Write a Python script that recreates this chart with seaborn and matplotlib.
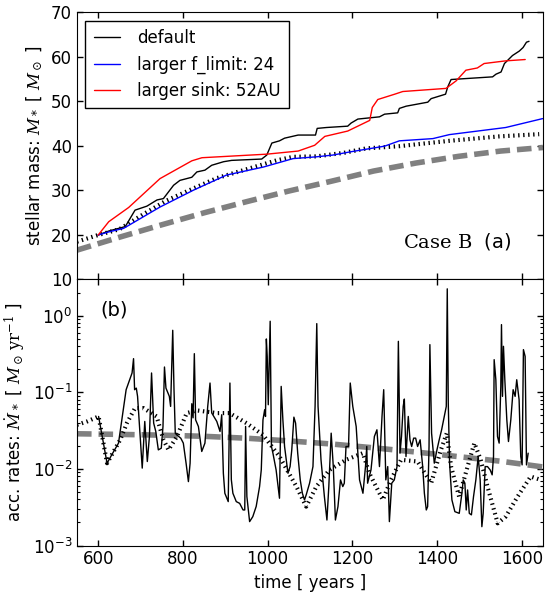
import numpy as np
import pandas as pd
import matplotlib
matplotlib.use("Agg")
import matplotlib.pyplot as plt
import seaborn as sns

# ---------------- data ----------------
# top panel: stellar mass [Msun] vs time [yr]
t_default = [600, 625, 664, 687, 715, 739, 754, 778, 793, 821, 833, 852, 868, 896, 915, 986, 998,
             1010, 1028, 1040, 1072, 1113, 1117, 1139, 1189, 1197, 1213, 1264, 1276, 1307, 1311,
             1327, 1378, 1386, 1420, 1425, 1433, 1531, 1539, 1551, 1559, 1578, 1594, 1603, 1611, 1617]
m_default = [19.9, 20.8, 21.8, 25.5, 26.4, 27.8, 28.1, 31.1, 32.2, 32.9, 34.1, 34.5, 35.6, 36.4, 36.7,
             37.0, 37.9, 40.6, 41.1, 41.7, 42.4, 42.4, 43.9, 44.1, 44.4, 45.1, 46.0, 46.5, 47.1, 47.4,
             48.4, 48.9, 49.8, 50.6, 51.6, 53.2, 54.9, 55.5, 56.1, 56.6, 58.5, 60.3, 61.3, 62.1, 63.3, 63.5]

t_flimit = [600, 625, 660, 746, 825, 903, 990, 1060, 1115, 1154, 1194, 1276, 1311, 1390, 1429, 1562, 1649]
m_flimit = [19.9, 20.6, 21.4, 26.2, 30.0, 33.4, 35.2, 37.1, 37.5, 37.9, 38.6, 39.9, 41.1, 41.6, 42.5, 44.1, 46.1]

t_sink = [600, 625, 672, 746, 821, 845, 998, 1072, 1111, 1135, 1189, 1241, 1247, 1260, 1300, 1319,
          1421, 1445, 1468, 1495, 1511, 1562, 1608]
m_sink = [19.9, 22.9, 26.1, 32.6, 36.6, 37.3, 38.1, 38.8, 40.1, 42.1, 43.3, 45.7, 48.6, 50.4, 51.6, 52.2,
          52.9, 54.6, 57.0, 57.5, 58.5, 59.1, 59.4]

t_dotted = [550, 600, 650, 707, 760, 825, 880, 943, 1021, 1060, 1115, 1180, 1233, 1311, 1429, 1547, 1641]
m_dotted = [18.4, 19.9, 21.2, 24.6, 27.6, 30.4, 32.7, 34.5, 36.7, 37.5, 37.6, 38.4, 39.4, 39.9, 41.1, 42.1, 42.6]

t_model = [550, 650, 750, 850, 950, 1050, 1150, 1250, 1350, 1450, 1550, 1650]
m_model = [16.5, 19.4, 22.2, 24.9, 27.4, 29.8, 32.0, 34.3, 36.1, 37.6, 38.8, 39.6]

# bottom panel: log10 of accretion rate [Msun/yr] vs time [yr]
t_rate = [601, 621, 632, 648, 666, 680, 683.5, 686, 690, 693, 704, 710, 716, 721, 726, 731, 736, 742,
          749, 753, 756.5, 760, 768, 771, 776, 779, 782, 785.5, 795, 801, 807.5, 813, 817, 821, 824,
          827, 830, 836.6, 844.5, 852, 858.6, 864, 868, 880, 887.6, 891.6, 895.5, 899, 907, 911,
          914.3, 918, 926, 934, 942, 946, 948, 951, 957.5, 965, 973, 981, 985, 989, 993, 995, 997,
          999, 1001.5, 1006, 1009, 1012.5, 1020, 1028, 1032, 1036, 1040, 1048, 1053, 1057, 1062,
          1066, 1071, 1077, 1082, 1087, 1091, 1099, 1107, 1112, 1116, 1119, 1126, 1134, 1140, 1144.4,
          1150, 1155, 1160, 1166, 1172, 1177.4, 1181, 1185, 1191, 1195, 1201, 1209, 1217, 1225, 1231,
          1234, 1236, 1244, 1252, 1258, 1264, 1270, 1274, 1279, 1283.5, 1287.4, 1293, 1299, 1305.4,
          1308.6, 1312.5, 1316, 1320, 1322.7, 1326.6, 1332, 1336, 1340, 1344.7, 1349.4, 1354, 1360,
          1366, 1370, 1374.5, 1377.7, 1381, 1383, 1387, 1393.4, 1399.7, 1405, 1410.7, 1417, 1421.7,
          1424, 1426.4, 1429.5, 1435, 1442, 1452.3, 1458.6, 1461.7, 1465.6, 1468.8, 1472, 1476, 1481,
          1486, 1491.5, 1497, 1501.7, 1505.7, 1508.8, 1513.5, 1519, 1525.3, 1530, 1533.2, 1534.7,
          1538.7, 1542.6, 1546.5, 1550.4, 1552, 1554.4, 1556.7, 1559.9, 1564.6, 1568.5, 1574, 1579.5,
          1584.2, 1588, 1593.6, 1597.5, 1600.7, 1603.8, 1607.8, 1611, 1615]
log_rate_default = [-1.316, -1.926, -1.817, -1.664, -0.967, -0.749, -0.562, -0.967, -0.946, -1.054, -1.99,
                    -1.381, -1.904, -1.577, -0.749, -1.403, -1.512, -1.752, -1.730, -1.447, -0.671, -0.946,
                    -1.054, -1.185, -0.192, -0.967, -1.534, -1.556, -1.6, -1.664, -1.926, -2.166, -1.926,
                    -1.150, -1.334, -0.497, -1.360, -1.447, -1.773, -1.664, -1.185, -0.880, -1.27, -1.381,
                    -1.512, -1.294, -2.057, -2.318, -2.427, -0.880, -2.14, -2.318, -2.427, -2.45, -2.536,
                    -2.536, -1.447, -2.36, -2.688, -2.623, -2.49, -2.23, -2.013, -1.36, -1.229, -1.316,
                    -0.305, -0.532, -1.163, -0.074, -1.708, -1.795, -2.013, -2.383, -0.924, -1.36, -1.708,
                    -2.057, -1.970, -1.752, -1.325, -1.403, -1.795, -2.144, -2.318, -2.405, -2.340, -2.187,
                    -1.970, -1.185, -0.105, -1.185, -1.882, -2.362, -2.667, -2.231, -1.534, -1.970, -2.667,
                    -2.492, -2.144, -2.231, -2.187, -1.708, -1.708, -0.880, -1.185, -1.447, -2.144, -2.318,
                    -1.970, -1.708, -2.187, -2.013, -1.577, -1.490, -1.970, -1.316, -0.967, -2.144, -1.970,
                    -2.688, -2.187, -2.144, -1.970, -0.336, -1.795, -1.577, -1.185, -1.089, -1.839, -1.316,
                    -1.621, -1.708, -1.599, -1.599, -1.708, -1.621, -1.970, -2.318, -2.536, -2.492, -1.708,
                    -0.379, -1.534, -1.926, -1.752, -1.621, -1.490, -1.316, -1.185, 0.349, -1.142, -1.926,
                    -2.405, -2.558, -2.58, -2.318, -2.144, -2.187, -2.536, -2.275, -2.58, -2.60, -2.362,
                    -2.144, -1.839, -2.144, -2.754, -2.58, -1.970, -1.970, -2.013, -2.078, -1.839, -0.575,
                    -0.837, -1.577, -1.664, -0.924, -0.118, -1.054, -0.401, -0.837, -1.360, -1.643, -1.360,
                    -0.967, -1.054, -0.837, -1.098, -1.839, -1.948, -0.444, -0.532, -1.948, -1.795]

t_rate_dotted = [550, 574, 601, 621, 652, 668, 687, 707, 738, 754, 766, 786, 809, 833, 880, 910, 950, 989,
                 1028, 1068, 1091, 1115, 1146, 1185, 1225, 1240, 1272, 1291, 1315, 1354, 1386, 1409, 1423,
                 1433, 1452, 1472, 1488, 1503, 1519, 1543, 1562, 1590, 1621, 1645]
log_rate_dotted = [-1.425, -1.381, -1.316, -1.926, -1.62, -1.40, -1.207, -1.207, -1.316, -1.62, -1.752,
                   -1.577, -1.272, -1.237, -1.272, -1.272, -1.403, -1.556, -1.839, -2.231, -2.492, -2.231,
                   -2.013, -1.882, -1.795, -2.057, -2.405, -2.144, -1.882, -1.904, -2.187, -1.752, -1.534,
                   -1.970, -2.362, -1.970, -1.664, -1.882, -2.231, -2.71, -2.623, -2.362, -2.10, -2.144]

t_rate_model = [550, 650, 750, 850, 950, 1050, 1150, 1250, 1350, 1450, 1550, 1650]
log_rate_model = [-1.542, -1.55, -1.56, -1.575, -1.60, -1.635, -1.675, -1.725, -1.78, -1.84, -1.90, -1.975]

x_ticks = [600, 800, 1000, 1200, 1400, 1600]
mass_ticks = [10, 20, 30, 40, 50, 60, 70]

# ---------------- style ----------------
sns.set_style("ticks", rc={
    "xtick.direction": "in", "ytick.direction": "in",
    "xtick.top": True, "ytick.right": True,
    "axes.edgecolor": "black", "axes.linewidth": 1.0,
    "xtick.color": "black", "ytick.color": "black",
    "text.color": "black", "axes.labelcolor": "black",
})
plt.rcParams.update({
    "font.family": ["DejaVu Sans"],
    "font.size": 12,
    "mathtext.fontset": "dejavuserif",
    "axes.unicode_minus": False,
    "lines.scale_dashes": False,
    "xtick.major.size": 4.5, "ytick.major.size": 4.5,
    "xtick.minor.size": 2.5, "ytick.minor.size": 2.5,
    "xtick.major.width": 1.0, "ytick.major.width": 1.0,
    "ytick.minor.width": 0.8,
    "xtick.labelsize": 12, "ytick.labelsize": 12,
    "axes.labelsize": 12,
})

fig = plt.figure(figsize=(5.46, 5.92), dpi=100)
left, right, top, mid, bottom = 0.141, 0.9945, 0.979, 0.5287, 0.0785
ax1 = fig.add_axes([left, mid, right - left, top - mid])
ax2 = fig.add_axes([left, bottom, right - left, mid - bottom], sharex=ax1)

gray = "#808080"
dot_dash = (1.0, 2.6)
gray_dash = (10.5, 5.0)

# ---------------- top panel ----------------
df = lambda x, y: pd.DataFrame({"t": x, "v": y})
sns.lineplot(data=df(t_model, m_model), x="t", y="v", ax=ax1, color=gray, lw=4.0,
             estimator=None, sort=False)
ax1.lines[-1].set_dashes(gray_dash)
sns.lineplot(data=df(t_dotted, m_dotted), x="t", y="v", ax=ax1, color="black", lw=3.0,
             estimator=None, sort=False)
ax1.lines[-1].set_dashes(dot_dash)
sns.lineplot(data=df(t_default, m_default), x="t", y="v", ax=ax1, color="black", lw=1.0,
             estimator=None, sort=False, label="default")
sns.lineplot(data=df(t_flimit, m_flimit), x="t", y="v", ax=ax1, color="blue", lw=1.0,
             estimator=None, sort=False, label="larger f_limit: 24")
sns.lineplot(data=df(t_sink, m_sink), x="t", y="v", ax=ax1, color="red", lw=1.0,
             estimator=None, sort=False, label="larger sink: 52AU")

ax1.set_xlim(550, 1650)
ax1.set_ylim(10, 70)
ax1.set_yticks(mass_ticks)
ax1.set_xticks(x_ticks)
ax1.tick_params(labelbottom=False)
ax1.set_xlabel("")
ax1.set_ylabel(r"stellar mass: $M_*$ [ $M_\odot$ ]", labelpad=4)
ax1.text(0.70, 0.14, r"$\mathrm{Case\ B}$  (a)", transform=ax1.transAxes,
         fontsize=14, va="center", ha="left")
h, l = ax1.get_legend_handles_labels()
leg = ax1.legend(h, l, loc="upper left", fontsize=12, frameon=True, fancybox=False,
                 edgecolor="black", framealpha=1.0, handlelength=1.6, handletextpad=1.0,
                 borderpad=0.5, labelspacing=0.5)
leg.get_frame().set_linewidth(1.0)

# ---------------- bottom panel ----------------
sns.lineplot(data=df(t_rate_model, np.power(10.0, log_rate_model)), x="t", y="v", ax=ax2,
             color=gray, lw=4.0, estimator=None, sort=False)
ax2.lines[-1].set_dashes(gray_dash)
sns.lineplot(data=df(t_rate_dotted, np.power(10.0, log_rate_dotted)), x="t", y="v", ax=ax2,
             color="black", lw=3.0, estimator=None, sort=False)
ax2.lines[-1].set_dashes(dot_dash)
sns.lineplot(data=df(t_rate, np.power(10.0, log_rate_default)), x="t", y="v", ax=ax2,
             color="black", lw=1.0, estimator=None, sort=False)

ax2.set_yscale("log")
ax2.set_ylim(1e-3, 3)
ax2.set_xlim(550, 1650)
ax2.set_xticks(x_ticks)
ax2.set_xticklabels([str(v) for v in x_ticks])
ax2.tick_params(axis="x", which="minor", bottom=False, top=False)
ax2.set_xlabel("time [ years ]")
ax2.set_ylabel(r"acc. rates: $\dot M_*$ [ $M_\odot\, \mathrm{yr}^{-1}$ ]", labelpad=4)
ax2.text(0.05, 0.885, "(b)", transform=ax2.transAxes, fontsize=14, va="center", ha="left")

for ax in (ax1, ax2):
    ax.tick_params(which="both", direction="in", top=True, right=True)

fig.savefig("out.png", dpi=100)
